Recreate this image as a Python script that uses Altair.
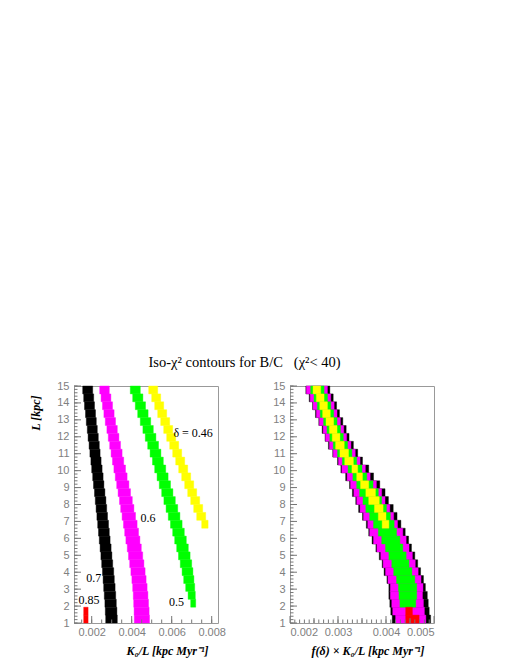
import altair as alt
import pandas as pd
import numpy as np

# ---- bin edges in L [kpc] (top to bottom) ----
L_EDGES = [15.000, 14.533, 14.067, 13.600, 13.133, 12.667, 12.200, 11.733, 11.267,
           10.800, 10.333, 9.867, 9.400, 8.933, 8.467, 8.000, 7.533, 7.067, 6.600,
           6.133, 5.667, 5.200, 4.733, 4.267, 3.800, 3.333, 2.867, 2.400, 1.933,
           1.467, 1.000]

# ---- left panel: K0/L ranges per L row (units of 1e-3 kpc/Myr) ----
D070_LO = [1.55, 1.60, 1.64, 1.69, 1.73, 1.78, 1.82, 1.87, 1.91, 1.96, 2.00, 2.05, 2.09, 2.14, 2.18,
           2.22, 2.26, 2.30, 2.34, 2.38, 2.42, 2.46, 2.50, 2.54, 2.57, 2.60, 2.63, 2.66, 2.68, 2.70]
D070_HI = [2.05, 2.10, 2.14, 2.19, 2.23, 2.28, 2.33, 2.38, 2.42, 2.47, 2.52, 2.57, 2.61, 2.66, 2.71,
           2.75, 2.79, 2.84, 2.88, 2.92, 2.97, 3.01, 3.05, 3.10, 3.13, 3.17, 3.20, 3.23, 3.26, 3.28]
D060_LO = [2.40, 2.47, 2.54, 2.61, 2.68, 2.76, 2.83, 2.90, 2.97, 3.04, 3.11, 3.18, 3.25, 3.32, 3.39,
           3.45, 3.52, 3.59, 3.65, 3.71, 3.78, 3.84, 3.90, 3.96, 4.01, 4.05, 4.08, 4.10, 4.12, 4.13]
D060_HI = [2.88, 2.96, 3.04, 3.12, 3.19, 3.28, 3.36, 3.44, 3.52, 3.60, 3.69, 3.77, 3.86, 3.94, 4.03,
           4.11, 4.19, 4.27, 4.34, 4.41, 4.48, 4.55, 4.61, 4.67, 4.72, 4.77, 4.81, 4.84, 4.87, 4.89]
D050_LO = [3.93, 4.05, 4.18, 4.30, 4.43, 4.56, 4.68, 4.80, 4.92, 5.04, 5.15, 5.27, 5.38, 5.50,
           5.61, 5.72, 5.83, 5.94, 6.05, 6.15, 6.25, 6.34, 6.43, 6.52, 6.60, 6.70, 6.82, 6.95]
D050_HI = [4.43, 4.56, 4.69, 4.82, 4.95, 5.08, 5.21, 5.34, 5.46, 5.58, 5.70, 5.82, 5.94, 6.06,
           6.18, 6.30, 6.41, 6.52, 6.63, 6.73, 6.83, 6.92, 7.00, 7.06, 7.11, 7.15, 7.18, 7.20]
D046_LO = [4.85, 5.00, 5.15, 5.30, 5.45, 5.60, 5.75, 5.90, 6.05, 6.20, 6.35, 6.50, 6.65, 6.80,
           6.95, 7.10, 7.25, 7.50]
D046_HI = [5.30, 5.45, 5.60, 5.75, 5.90, 6.05, 6.20, 6.35, 6.50, 6.65, 6.80, 6.95, 7.10, 7.25,
           7.40, 7.55, 7.70, 7.82]
D085_LO = [1.60, 1.60]
D085_HI = [1.82, 1.82]

# ---- right panel: f(delta) x K0/L ranges per L row (units of 1e-3) ----
R070_LO = [2.33, 2.40, 2.47, 2.53, 2.60, 2.67, 2.73, 2.80, 2.89, 2.99, 3.06, 3.16, 3.24, 3.30, 3.37,
           3.43, 3.51, 3.59, 3.64, 3.71, 3.79, 3.86, 3.92, 3.96, 4.02, 4.06, 4.06, 4.08, 4.10, 4.13]
R070_HI = [2.83, 2.90, 2.97, 3.03, 3.10, 3.17, 3.23, 3.32, 3.41, 3.51, 3.64, 3.74, 3.87, 3.98, 4.05,
           4.15, 4.23, 4.31, 4.40, 4.47, 4.53, 4.60, 4.66, 4.72, 4.78, 4.82, 4.86, 4.88, 4.90, 4.93]
R060_LO = [2.34, 2.42, 2.48, 2.55, 2.61, 2.69, 2.74, 2.82, 2.90, 3.01, 3.08, 3.19, 3.26, 3.33, 3.39,
           3.46, 3.53, 3.62, 3.66, 3.74, 3.81, 3.89, 3.94, 3.99, 4.04, 4.09, 4.09, 4.12, 4.14, 4.20]
R060_HI = [2.78, 2.85, 2.92, 2.98, 3.05, 3.12, 3.18, 3.27, 3.36, 3.46, 3.57, 3.67, 3.80, 3.91, 3.98,
           4.08, 4.16, 4.24, 4.35, 4.42, 4.48, 4.55, 4.61, 4.67, 4.73, 4.77, 4.76, 4.78, 4.80, 4.83]
R050_LO = [2.43, 2.50, 2.57, 2.63, 2.70, 2.77, 2.83, 2.90, 2.99, 3.09, 3.21, 3.31, 3.39, 3.45,
           3.52, 3.58, 3.66, 3.74, 3.84, 3.91, 3.99, 4.06, 4.12, 4.16, 4.22, 4.26, 4.27, 4.29]
R050_HI = [2.71, 2.78, 2.85, 2.91, 2.98, 3.05, 3.11, 3.20, 3.29, 3.39, 3.50, 3.60, 3.73, 3.84,
           3.91, 4.01, 4.09, 4.17, 4.22, 4.29, 4.35, 4.42, 4.48, 4.54, 4.60, 4.64, 4.64, 4.62]
R046_LO = [2.48, 2.55, 2.62, 2.68, 2.75, 2.82, 2.88, 2.95, 3.04, 3.14, 3.29, 3.39, 3.47, 3.58,
           3.64, 3.76, 3.84, 3.92]
R046_HI = [2.64, 2.71, 2.78, 2.84, 2.91, 2.98, 3.04, 3.13, 3.22, 3.32, 3.41, 3.51, 3.64, 3.78,
           3.86, 3.94, 4.00, 4.06]
R085_LO = [4.41, 4.41]
R085_HI = [4.55, 4.69]

# ---- annotations (left panel) ----
ANN_TEXT = ["δ = 0.46", "0.6", "0.7", "0.85", "0.5"]
ANN_X = [7.07, 4.82, 2.10, 1.87, 6.24]
ANN_Y = [12.2, 7.22, 3.64, 2.38, 2.25]

# ---- axis ticks ----
Y_LABELS = list(range(1, 16))
XL_LABELS = [0.002, 0.004, 0.006, 0.008]
XR_LABELS = [0.002, 0.003, 0.004, 0.005]

BANDS = ["0.7", "0.6", "0.5", "0.46", "0.85"]
COLORS = ["#000000", "#ff00ff", "#00ff00", "#ffff00", "#ff0000"]

W, H = 144, 237


def cells(band, lo, hi, first_row=0):
    out = []
    for k, (a, b) in enumerate(zip(lo, hi)):
        i = first_row + k
        out.append(dict(band=band, x=a / 1000.0, x2=b / 1000.0,
                        y=L_EDGES[i + 1], y2=L_EDGES[i]))
    return out


left_df = pd.DataFrame(
    cells("0.7", D070_LO, D070_HI) + cells("0.6", D060_LO, D060_HI)
    + cells("0.5", D050_LO, D050_HI) + cells("0.46", D046_LO, D046_HI)
    + cells("0.85", D085_LO, D085_HI, 28))
right_df = pd.DataFrame(
    cells("0.7", R070_LO, R070_HI) + cells("0.6", R060_LO, R060_HI)
    + cells("0.5", R050_LO, R050_HI) + cells("0.46", R046_LO, R046_HI)
    + cells("0.85", R085_LO, R085_HI, 28))
ann_df = pd.DataFrame(dict(t=ANN_TEXT, x=[v / 1000 for v in ANN_X], y=ANN_Y))

yscale = alt.Scale(domain=[1, 15], nice=False, zero=False)
color = alt.Color("band:N", scale=alt.Scale(domain=BANDS, range=COLORS), legend=None)

TITLE_FONT = dict(titleFont="Liberation Serif", titleFontSize=12, titleFontWeight="bold",
                  titleFontStyle="italic", titleColor="black")


def yaxis(show_title):
    kw = dict(values=Y_LABELS, format="d", labelPadding=5, ticks=False, domain=False, grid=False)
    if show_title:
        return alt.Axis(title="L [kpc]", titleAngle=270, titleX=-39, titleY=9,
                        titleAlign="right", titleBaseline="middle", **TITLE_FONT, **kw)
    return alt.Axis(title=None, **kw)


def xaxis(title, values):
    return alt.Axis(title=title, values=values, format=".3f", labelPadding=3, ticks=False,
                    domain=False, grid=False, titleX=W - 10, titleY=31, titleAlign="right",
                    titleBaseline="alphabetic", **TITLE_FONT)


def panel(df, xdom, xtitle, xlabels, minor_x, mid_x, show_ytitle, ann=None):
    xs = alt.Scale(domain=xdom, nice=False, zero=False)
    xa = xaxis(xtitle, xlabels)
    ya = yaxis(show_ytitle)
    rects = alt.Chart(df).mark_rect(strokeWidth=0.4).encode(
        x=alt.X("x:Q", scale=xs, axis=xa), x2="x2:Q",
        y=alt.Y("y:Q", scale=yscale, axis=ya), y2="y2:Q",
        color=color, stroke=alt.Stroke("band:N", scale=alt.Scale(domain=BANDS, range=COLORS), legend=None))
    ymaj = pd.DataFrame(dict(v=Y_LABELS))
    ymin = pd.DataFrame(dict(v=np.round(np.arange(1.0, 15.001, 0.2), 2)))
    tick_col = "#777777"
    t1 = alt.Chart(ymaj).mark_rule(color=tick_col).encode(
        y=alt.Y("v:Q", scale=yscale, axis=ya), x=alt.value(0), x2=alt.value(7))
    t2 = alt.Chart(ymin).mark_rule(color=tick_col).encode(
        y=alt.Y("v:Q", scale=yscale, axis=ya), x=alt.value(0), x2=alt.value(3.5))
    xmaj = pd.DataFrame(dict(v=xlabels))
    t3 = alt.Chart(xmaj).mark_rule(color=tick_col).encode(
        x=alt.X("v:Q", scale=xs, axis=xa), y=alt.value(H), y2=alt.value(H - 7))
    t4 = alt.Chart(pd.DataFrame(dict(v=minor_x))).mark_rule(color=tick_col).encode(
        x=alt.X("v:Q", scale=xs, axis=xa), y=alt.value(H), y2=alt.value(H - 3.5))
    layers = [rects, t1, t2, t3, t4]
    if mid_x:
        t5 = alt.Chart(pd.DataFrame(dict(v=mid_x))).mark_rule(color=tick_col).encode(
            x=alt.X("v:Q", scale=xs, axis=xa), y=alt.value(H), y2=alt.value(H - 5))
        layers.append(t5)
    if ann is not None:
        txt = alt.Chart(ann).mark_text(font="Liberation Serif", fontSize=12, color="black",
                                       align="center", baseline="middle").encode(
            x=alt.X("x:Q", scale=xs, axis=xa), y=alt.Y("y:Q", scale=yscale, axis=ya), text="t:N")
        layers.append(txt)
    return alt.layer(*layers).properties(width=W, height=H)


minor_left = [round(v, 4) for v in np.arange(0.0015, 0.0081, 0.0005)]
minor_right = [round(v, 4) for v in np.arange(0.0021, 0.0050, 0.0001)]
mid_right = [0.0025, 0.0035, 0.0045]

left = panel(left_df, [0.001115, 0.008315], "K₀/L [kpc Myr⁻¹]", XL_LABELS,
             minor_left, None, True, ann_df)
right = panel(right_df, [0.002, 0.005], "f(δ) × K₀/L [kpc Myr⁻¹]", XR_LABELS,
              minor_right, mid_right, False)

TITLE = "Iso-χ² contours for B/C\u00a0\u00a0\u00a0(χ²<\u00a040)"

chart = alt.hconcat(left, right, spacing=72, bounds="flush").properties(
    title=alt.TitleParams(TITLE, font="Liberation Serif",
                          fontSize=14.5, fontWeight="normal", color="black", anchor="start",
                          dx=120, offset=-1.5, baseline="alphabetic"),
    padding={"left": 20, "top": 346, "right": 5, "bottom": 5},
).configure_view(stroke="#999999", strokeWidth=1).configure_axis(
    labelFont="Liberation Sans", labelFontSize=11, labelColor="#808080"
).resolve_scale(color="independent")

chart.save("out.html", embed_options={"renderer": "svg", "actions": False})
